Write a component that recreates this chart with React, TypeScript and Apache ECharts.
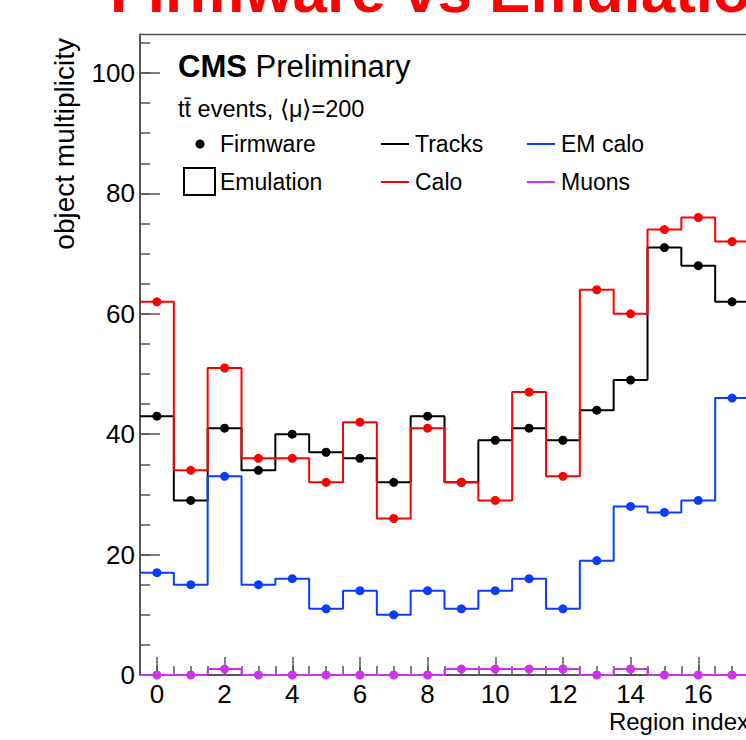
import React, { useEffect, useRef } from "react";
import * as echarts from "echarts";

// ---- data ----
const REGIONS = [0, 1, 2, 3, 4, 5, 6, 7, 8, 9, 10, 11, 12, 13, 14, 15, 16, 17];
const TRACKS = [43, 29, 41, 34, 40, 37, 36, 32, 43, 32, 39, 41, 39, 44, 49, 71, 68, 62];
const CALO = [62, 34, 51, 36, 36, 32, 42, 26, 41, 32, 29, 47, 33, 64, 60, 74, 76, 72];
const EM_CALO = [17, 15, 33, 15, 16, 11, 14, 10, 14, 11, 14, 16, 11, 19, 28, 27, 29, 46];
const MUONS = [0, 0, 1, 0, 0, 0, 0, 0, 0, 1, 1, 1, 1, 0, 1, 0, 0, 0];

const X_MAJOR_TICKS = [0, 2, 4, 6, 8, 10, 12, 14, 16];
const Y_MAJOR_TICKS = [0, 20, 40, 60, 80, 100];
const X_MIN = -0.5;
const X_MAX = 17.5;
const Y_MAX = 106.4;

const SERIES_NAMES = ["Tracks", "EM calo", "Calo", "Muons"];
const TITLE = "Firmware vs Emulation";
const X_TITLE = "Region index";
const Y_TITLE = "object multiplicity";

const FONT = '"Liberation Sans", Arial, Helvetica, sans-serif';
const FRAME = "#555555";
const COLORS: Record<string, string> = {
  Tracks: "#000000",
  "EM calo": "#0a3cff",
  Calo: "#ff0000",
  Muons: "#cc33ee",
};

function minorTicks(min: number, max: number, step: number): number[] {
  const out: number[] = [];
  const n = Math.round((max - min) / step);
  for (let i = 0; i <= n; i++) out.push(+(min + i * step).toFixed(3));
  return out;
}

function stepData(vals: number[]): number[][] {
  const pts: number[][] = [[X_MIN, vals[0]]];
  REGIONS.forEach((r, i) => pts.push([r, vals[i]]));
  pts.push([X_MAX, vals[vals.length - 1]]);
  return pts;
}

function txt(x: number, y: number, text: string, font: string, align = "left", extra: any = {}) {
  return {
    type: "text",
    x,
    y,
    ...extra,
    style: {
      text,
      font,
      fill: "#000",
      align,
      verticalAlign: "middle",
      textAlign: align,
      textVerticalAlign: "middle",
    },
  };
}

export default function App() {
  const ref = useRef<HTMLDivElement>(null);

  useEffect(() => {
    if (!ref.current) return;
    const chart = echarts.init(ref.current, undefined, { renderer: "svg" });

    const valuesByName: Record<string, number[]> = {
      Tracks: TRACKS,
      "EM calo": EM_CALO,
      Calo: CALO,
      Muons: MUONS,
    };

    const lineSeries = SERIES_NAMES.map((name, k) => ({
      name: name + " emulation",
      type: "line",
      step: "middle",
      data: stepData(valuesByName[name]),
      showSymbol: false,
      symbol: "none",
      lineStyle: { color: COLORS[name], width: 2 },
      z: 2 + k,
      silent: true,
    }));

    const dotSeries = SERIES_NAMES.map((name, k) => ({
      name: name + " firmware",
      type: "scatter",
      data: REGIONS.map((r, i) => [r, valuesByName[name][i]]),
      symbol: "circle",
      symbolSize: 9,
      itemStyle: { color: COLORS[name], opacity: 1 },
      z: 10 + k,
      silent: true,
    }));

    const legendRows = [
      { y: 144, marker: "dot", label: "Firmware", s1: "Tracks", s2: "EM calo" },
      { y: 182, marker: "box", label: "Emulation", s1: "Calo", s2: "Muons" },
    ];

    const legendGraphics: any[] = [];
    legendRows.forEach((row) => {
      if (row.marker === "dot") {
        legendGraphics.push({
          type: "circle",
          shape: { cx: 200, cy: row.y, r: 4.5 },
          style: { fill: "#000" },
        });
      } else {
        legendGraphics.push({
          type: "rect",
          shape: { x: 184, y: row.y - 14, width: 31, height: 27 },
          style: { fill: "none", stroke: "#000", lineWidth: 2 },
        });
      }
      legendGraphics.push(txt(220, row.y, row.label, `23px ${FONT}`));
      [
        { name: row.s1, x0: 381, tx: 415 },
        { name: row.s2, x0: 527, tx: 561 },
      ].forEach((e) => {
        legendGraphics.push({
          type: "line",
          shape: { x1: e.x0, y1: row.y, x2: e.x0 + 28, y2: row.y },
          style: { stroke: COLORS[e.name], lineWidth: 2 },
        });
        legendGraphics.push(txt(e.tx, row.y, e.name, `23px ${FONT}`));
      });
    });

    const option: any = {
      animation: false,
      backgroundColor: "#ffffff",
      grid: {
        left: 140,
        right: 11,
        top: 34.5,
        bottom: 65,
        show: true,
        borderColor: FRAME,
        borderWidth: 1.5,
        backgroundColor: "transparent",
      },
      xAxis: [
        {
          type: "value",
          min: X_MIN,
          max: X_MAX,
          position: "bottom",
          axisLine: { show: true, onZero: false, lineStyle: { color: FRAME, width: 2 } },
          axisTick: {
            show: true,
            inside: true,
            length: 18,
            customValues: X_MAJOR_TICKS,
            lineStyle: { color: FRAME, width: 1.5 },
          },
          axisLabel: {
            customValues: X_MAJOR_TICKS,
            fontSize: 26,
            fontFamily: FONT,
            color: "#000",
            margin: 6,
          },
          splitLine: { show: false },
        },
        {
          type: "value",
          min: X_MIN,
          max: X_MAX,
          position: "bottom",
          axisLine: { show: false, onZero: false },
          axisTick: {
            show: true,
            inside: true,
            length: 9,
            customValues: minorTicks(0, 17, 0.5),
            lineStyle: { color: FRAME, width: 1.5 },
          },
          axisLabel: { show: false },
          splitLine: { show: false },
        },
      ],
      yAxis: [
        {
          type: "value",
          min: 0,
          max: Y_MAX,
          position: "left",
          axisLine: { show: true, onZero: false, lineStyle: { color: FRAME, width: 2 } },
          axisTick: {
            show: true,
            inside: true,
            length: 20,
            customValues: Y_MAJOR_TICKS,
            lineStyle: { color: FRAME, width: 1.5 },
          },
          axisLabel: {
            customValues: Y_MAJOR_TICKS,
            fontSize: 26,
            fontFamily: FONT,
            color: "#000",
            margin: 5,
          },
          splitLine: { show: false },
        },
        {
          type: "value",
          min: 0,
          max: Y_MAX,
          position: "left",
          axisLine: { show: false, onZero: false },
          axisTick: {
            show: true,
            inside: true,
            length: 10,
            customValues: minorTicks(5, 105, 5),
            lineStyle: { color: FRAME, width: 1.5 },
          },
          axisLabel: { show: false },
          splitLine: { show: false },
        },
      ],
      series: [...lineSeries, ...dotSeries],
      graphic: [
        {
          type: "text",
          x: 110,
          y: -10,
          style: {
            text: TITLE,
            font: `bold 62px ${FONT}`,
            fill: "#ff0000",
            align: "left",
            verticalAlign: "middle",
            textAlign: "left",
            textVerticalAlign: "middle",
          },
        },
        {
          type: "text",
          x: 178,
          y: 66,
          style: {
            text: "{b|CMS} {n|Preliminary}",
            rich: {
              b: { font: `bold 31px ${FONT}`, fill: "#000", fontWeight: "bold", fontSize: 31, fontFamily: FONT },
              n: { font: `31px ${FONT}`, fill: "#000", fontSize: 31, fontFamily: FONT },
            },
            fill: "#000",
            font: `31px ${FONT}`,
            align: "left",
            verticalAlign: "middle",
            textAlign: "left",
            textVerticalAlign: "middle",
          },
        },
        txt(178, 108.5, "tt\u0304 events, \u27E8\u03BC\u27E9=200", `23.5px ${FONT}`),
        ...legendGraphics,
        txt(749, 721.5, X_TITLE, `24px ${FONT}`, "right"),
        txt(64.5, 38, Y_TITLE, `28px ${FONT}`, "right", { rotation: Math.PI / 2 }),
      ],
    };

    chart.setOption(option);
    return () => {
      chart.dispose();
    };
  }, []);

  return (
    <div
      style={{
        position: "fixed",
        left: 0,
        top: 0,
        width: 746,
        height: 740,
        overflow: "hidden",
        background: "#fff",
      }}
    >
      <div ref={ref} style={{ width: 760, height: 740 }} />
    </div>
  );
}
